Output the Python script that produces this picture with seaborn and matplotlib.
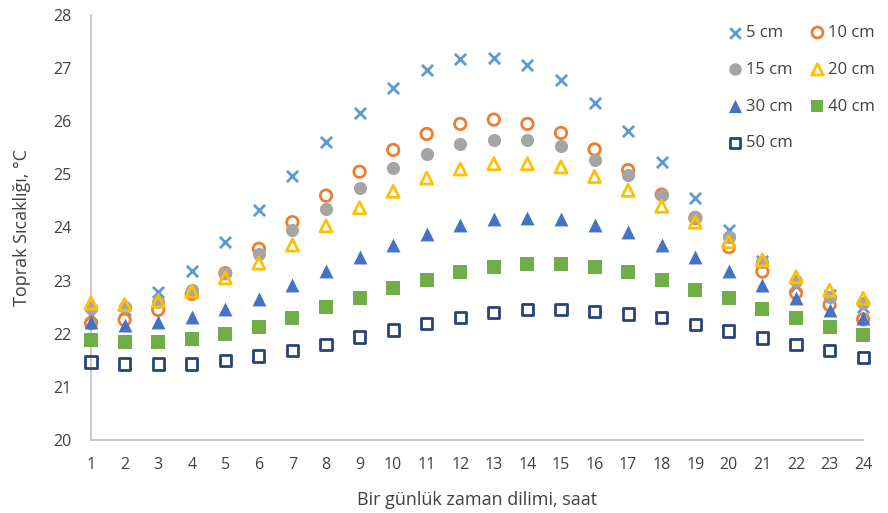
import matplotlib
matplotlib.use("Agg")
import matplotlib.pyplot as plt
import seaborn as sns
import pandas as pd

hours = list(range(1, 25))
d5 = [22.35, 22.45, 22.78, 23.18, 23.73, 24.33, 24.97, 25.6, 26.15, 26.62, 26.97, 27.17,
      27.19, 27.06, 26.77, 26.34, 25.82, 25.23, 24.56, 23.95, 23.37, 22.9, 22.72, 22.5]
d10 = [22.2, 22.26, 22.45, 22.75, 23.14, 23.6, 24.1, 24.6, 25.05, 25.46, 25.76, 25.95,
       26.03, 25.95, 25.78, 25.47, 25.08, 24.62, 24.18, 23.63, 23.17, 22.77, 22.54, 22.27]
d15 = [22.49, 22.5, 22.6, 22.82, 23.14, 23.5, 23.95, 24.35, 24.75, 25.12, 25.38, 25.57,
       25.65, 25.65, 25.53, 25.27, 24.98, 24.62, 24.2, 23.83, 23.35, 23.0, 22.7, 22.57]
d20 = [22.58, 22.55, 22.62, 22.8, 23.05, 23.33, 23.67, 24.03, 24.37, 24.68, 24.93, 25.1,
       25.2, 25.2, 25.14, 24.96, 24.7, 24.4, 24.1, 23.73, 23.39, 23.07, 22.82, 22.67]
d30 = [22.22, 22.17, 22.22, 22.32, 22.47, 22.66, 22.92, 23.18, 23.44, 23.67, 23.87, 24.05,
       24.16, 24.18, 24.16, 24.04, 23.91, 23.67, 23.45, 23.18, 22.92, 22.68, 22.45, 22.3]
d40 = [21.88, 21.85, 21.85, 21.9, 22.0, 22.12, 22.3, 22.5, 22.67, 22.87, 23.01, 23.17,
       23.26, 23.31, 23.31, 23.26, 23.17, 23.01, 22.83, 22.67, 22.47, 22.3, 22.12, 21.98]
d50 = [21.47, 21.43, 21.43, 21.43, 21.5, 21.58, 21.68, 21.8, 21.94, 22.07, 22.2, 22.3,
       22.4, 22.45, 22.45, 22.42, 22.37, 22.3, 22.17, 22.05, 21.92, 21.8, 21.69, 21.56]
labels = ["5 cm", "10 cm", "15 cm", "20 cm", "30 cm", "40 cm", "50 cm"]
series = [d5, d10, d15, d20, d30, d40, d50]

styles = [
    dict(marker="x", color="#5B9BD5", filled=True, s=65),
    dict(marker="o", color="#ED7D31", filled=False, s=68),
    dict(marker="o", color="#A5A5A5", filled=True, s=90),
    dict(marker="^", color="#FFC000", filled=False, s=75),
    dict(marker="^", color="#4472C4", filled=True, s=100),
    dict(marker="s", color="#70AD47", filled=True, s=90),
    dict(marker="s", color="#264478", filled=False, s=65),
]

sns.set_theme(style="white")
plt.rcParams["font.family"] = ["Open Sans", "DejaVu Sans"]

fig = plt.figure(figsize=(8.88, 5.13), dpi=100)
ax = fig.add_axes([0.1025, 0.1423, 0.8695, 0.8285])

handles = []
for lab, vals, st in zip(labels, series, styles):
    df = pd.DataFrame({"saat": hours, "T": vals})
    c = st["color"]
    if st["marker"] == "x":
        sns.scatterplot(data=df, x="saat", y="T", ax=ax, marker="x", color=c,
                        s=st["s"], linewidth=2.0, clip_on=False, zorder=3)
    elif st["filled"]:
        sns.scatterplot(data=df, x="saat", y="T", ax=ax, marker=st["marker"], color=c,
                        edgecolor=c, s=st["s"], linewidth=0, clip_on=False, zorder=3)
    else:
        sns.scatterplot(data=df, x="saat", y="T", ax=ax, marker=st["marker"],
                        facecolor="none", edgecolor=c, s=st["s"], linewidth=2.0,
                        clip_on=False, zorder=3)
    handles.append(ax.collections[-1])

ax.set_xlim(1, 24)
ax.set_ylim(20, 28)
ax.set_xticks(hours)
ax.set_yticks(range(20, 29))
ax.tick_params(axis="both", length=0, labelsize=11.5, colors="#404040")
ax.tick_params(axis="x", pad=12)
ax.tick_params(axis="y", pad=14)
for side in ["top", "right"]:
    ax.spines[side].set_visible(False)
for side in ["left", "bottom"]:
    ax.spines[side].set_color("#BFBFBF")
    ax.spines[side].set_linewidth(1.2)

ax.set_xlabel("Bir günlük zaman dilimi, saat", fontsize=13, color="#404040", labelpad=13)
ax.set_ylabel("Toprak Sıcaklığı, °C", fontsize=13, color="#404040", labelpad=16)

order = [0, 2, 4, 6, 1, 3, 5]
leg = ax.legend([handles[i] for i in order], [labels[i] for i in order],
                ncol=2, loc="upper right", bbox_to_anchor=(1.035, 1.012),
                frameon=False, fontsize=12, labelcolor="#404040",
                handletextpad=0.15, columnspacing=1.0, labelspacing=1.25,
                handlelength=1.0, markerscale=0.95)

fig.savefig("out.png", dpi=100)
